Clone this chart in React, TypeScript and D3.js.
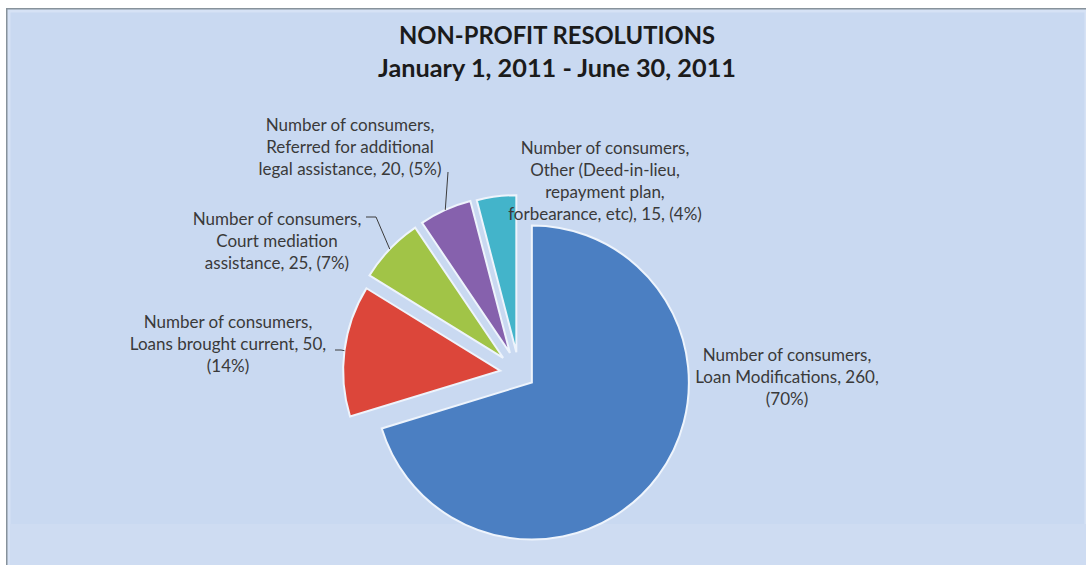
import React from "react";
import * as d3 from "d3";

const W = 1086;
const H = 565;

// ---- data ----
const seriesName = "Number of consumers";
const categories = [
  "Loan Modifications",
  "Loans brought current",
  "Court mediation assistance",
  "Referred for additional legal assistance",
  "Other (Deed-in-lieu, repayment plan, forbearance, etc)",
];
const values = [260, 50, 25, 20, 15];
const percents = [70, 14, 7, 5, 4];
const titleLines = ["NON-PROFIT RESOLUTIONS", "January 1, 2011 - June 30, 2011"];

// ---- style / layout ----
const colors = ["#4b7fc2", "#dc463a", "#a1c447", "#8661ad", "#43b4ca"];
const CX = 519;
const CY = 373;
const R = 157;
const EXPLODE = [16, 19, 22, 22, 21];
const LABEL_FONT = 17;
const LINE_H = 22.3;
// label centre x, first line centre y, words per line
const LABEL_LAYOUT = [
  { x: 787, y: 355, words: [3, 3, 1] },
  { x: 228, y: 322, words: [3, 4, 1] },
  { x: 277, y: 219, words: [3, 2, 3] },
  { x: 350, y: 125, words: [3, 3, 4] },
  { x: 605, y: 148, words: [3, 2, 2, 4] },
];
const LEADER_START: (number[][] | null)[] = [
  null,
  [[335, 350], [341, 350]],
  [[366, 217], [376, 217]],
  [[448, 172]],
  null,
];

function labelLines(i: number): string[] {
  const full = `${seriesName}, ${categories[i]}, ${values[i]}, (${percents[i]}%)`;
  const words = full.split(" ");
  const out: string[] = [];
  let k = 0;
  for (const n of LABEL_LAYOUT[i].words) {
    out.push(words.slice(k, k + n).join(" "));
    k += n;
  }
  return out;
}

export default function App() {
  const pie = d3
    .pie<number>()
    .sort(null)
    .startAngle(0)
    .endAngle(2 * Math.PI)(values);
  const arc = d3
    .arc<d3.PieArcDatum<number>>()
    .innerRadius(0)
    .outerRadius(R);

  const slices = pie.map((a, i) => {
    const mid = (a.startAngle + a.endAngle) / 2;
    const dx = EXPLODE[i] * Math.sin(mid);
    const dy = -EXPLODE[i] * Math.cos(mid);
    const ox = CX + dx + R * Math.sin(mid);
    const oy = CY + dy - R * Math.cos(mid);
    return { a, i, dx, dy, ox, oy };
  });

  const line = d3.line();

  return (
    <svg
      width={W}
      height={H}
      style={{ position: "absolute", left: 0, top: 0, display: "block" }}
    >
      <rect x={0} y={0} width={W} height={H} fill="#ffffff" />
      <rect x={6} y={8} width={W - 6} height={H - 8} fill="#87929b" />
      <rect x={8} y={10} width={W - 8} height={H - 10} fill="#c9d9f1" />
      <rect x={9} y={11} width={W - 9} height={H - 11} fill="none" stroke="#d6e2f5" strokeWidth={3} />
      <rect x={10} y={524} width={W - 10} height={H - 524} fill="#cedcf2" />

      {titleLines.map((t, i) => (
        <text
          key={t}
          x={557}
          y={i === 0 ? 44 : 77}
          textAnchor="middle"
          fontFamily="Lato, 'Open Sans', sans-serif"
          fontWeight="bold"
          fontSize={24}
          fill="#1b1b1b"
          textLength={i === 0 ? 316 : 358}
          lengthAdjust="spacingAndGlyphs"
        >
          {t}
        </text>
      ))}

      <g>
        {slices.map(({ a, i, dx, dy }) => (
          <path
            key={i}
            d={arc(a) || ""}
            transform={`translate(${CX + dx},${CY + dy})`}
            fill={colors[i]}
            stroke="#eef4fc"
            strokeWidth={2}
            strokeLinejoin="miter"
          />
        ))}
      </g>

      {slices.map(({ i, ox, oy }) => {
        const st = LEADER_START[i];
        if (!st) return null;
        const pts = [...st, [ox, oy]] as [number, number][];
        return (
          <path key={"l" + i} d={line(pts) || ""} fill="none" stroke="#3c3c3c" strokeWidth={1} />
        );
      })}

      {LABEL_LAYOUT.map((L, i) => (
        <text
          key={"t" + i}
          textAnchor="middle"
          fontFamily="Lato, 'Open Sans', sans-serif"
          fontSize={LABEL_FONT}
          fill="#3a3a3a"
        >
          {labelLines(i).map((ln, j) => (
            <tspan key={j} x={L.x} y={L.y + j * LINE_H + 5.5}>
              {ln}
            </tspan>
          ))}
        </text>
      ))}
    </svg>
  );
}
